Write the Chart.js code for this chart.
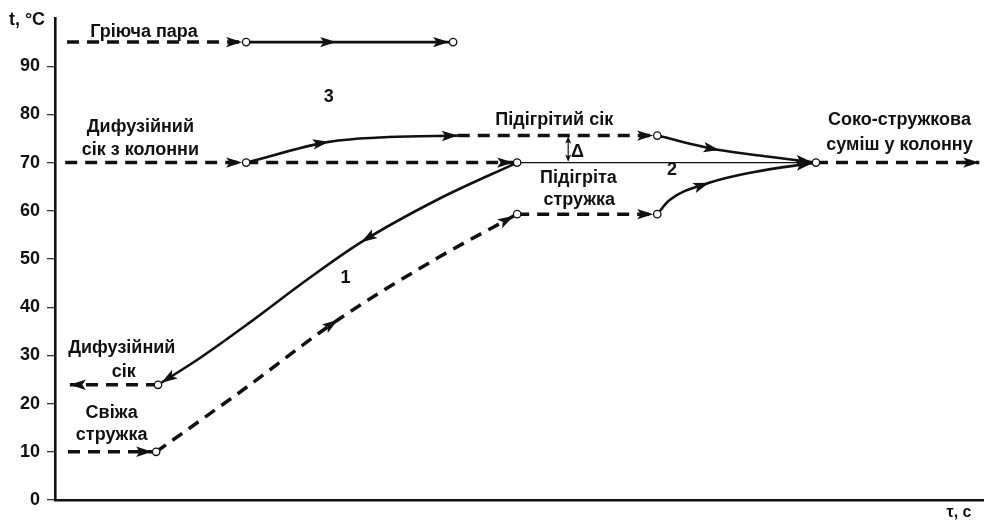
<!doctype html>
<html>
<head>
<meta charset="utf-8">
<title>Схема теплообміну</title>
<script src="https://cdn.jsdelivr.net/npm/chart.js@4.4.0/dist/chart.umd.min.js"></script>
<style>
  html, body { margin: 0; padding: 0; background: #fff; }
</style>
</head>
<body>
<canvas id="chart" width="988" height="521"></canvas>
<script>
// шляхи потоків: [час (умовно), t °C]
var steamIn     = [[1.3, 95], [20.6, 95]];
var steamHeat   = [[20.6, 95], [30.3, 95], [42.9, 95]];
var juiceIn     = [[1.1, 70], [20.6, 70]];
var juiceBypass = [[20.6, 70], [49.8, 70]];
var mixLine     = [[49.8, 70], [82, 70]];
var mixOut      = [[82, 70], [99.6, 70]];
var juiceHeated = [[20.6, 70], [29.5, 74.3], [35.9, 75.3], [43.4, 75.6]];
var juiceHot    = [[43.4, 75.6], [64.9, 75.6]];
var juiceMix    = [[64.9, 75.6], [71.6, 72.6], [77.0, 71.2], [82, 70]];
var chipsIn     = [[1.4, 10], [10.9, 10]];
var chipsHeat   = [[10.9, 10], [19.8, 22.2], [30.5, 37.4], [41.3, 50.3], [49.8, 59.3]];
var chipsHot    = [[49.8, 59.3], [64.9, 59.3]];
var chipsMix    = [[64.9, 59.3], [66.2, 62.2], [70.5, 65.8], [75.2, 68.0], [82, 70]];
var juiceCool   = [[49.8, 70], [41.3, 62.4], [33.0, 53.5], [27.3, 45.9], [20.9, 36.7], [15.5, 29.3], [11.1, 23.9]];
var juiceOut    = [[11.1, 23.9], [1.6, 23.9]];

var nodes = [[20.6, 95], [42.9, 95], [20.6, 70], [49.8, 70], [64.9, 75.6], [82, 70],
             [49.8, 59.3], [64.9, 59.3], [10.9, 10], [11.1, 23.9]];

var yTicks = [0, 10, 20, 30, 40, 50, 60, 70, 80, 90];

var notes = [
    ['Гріюча пара', 9.6, 97.1],
    ['3', 29.5, 83.6],
    ['Дифузійний', 9.2, 77.4],
    ['сік з колонни', 9.2, 72.6],
    ['Підігрітий сік', 53.8, 78.8],
    ['Δ', 56.3, 72.2],
    ['Підігріта', 56.4, 66.8],
    ['стружка', 56.5, 62.2],
    ['2', 66.5, 68.5],
    ['Соко-стружкова', 91.0, 78.8],
    ['суміш у колонну', 91.0, 73.7],
    ['1', 31.3, 46.1],
    ['Дифузійний', 7.2, 31.5],
    ['сік', 7.4, 26.6],
    ['Свіжа', 6.1, 18.0],
    ['стружка', 6.1, 13.5]
];
var delta = [55.3, 75.6, 70];

function pts(a) {
    return a.map(function (p) { return {x: p[0], y: p[1]}; });
}

var DASH = [12, 8];
var FONT = '"Liberation Sans", Arial, sans-serif';

function path(arr, dashed, extra) {
    var ds = {
        data: pts(arr),
        showLine: true,
        borderColor: '#111',
        borderWidth: dashed ? 3.5 : 2.6,
        borderDash: dashed ? DASH : [],
        pointRadius: 0,
        pointHoverRadius: 0,
        tension: 0,
        order: 2
    };
    for (var k in extra) ds[k] = extra[k];
    if (ds.curve) ds.cubicInterpolationMode = 'monotone';
    return ds;
}

function arrowHead(ctx, x, y, ang, len, half) {
    ctx.save();
    ctx.translate(x, y);
    ctx.rotate(ang);
    ctx.beginPath();
    ctx.moveTo(0, 0);
    ctx.lineTo(-len, -half);
    ctx.lineTo(-len * 0.78, 0);
    ctx.lineTo(-len, half);
    ctx.closePath();
    ctx.fill();
    ctx.restore();
}

var arrowsPlugin = {
    id: 'arrows',
    afterDatasetsDraw: function (chart) {
        var ctx = chart.ctx;
        ctx.fillStyle = '#111';
        chart.data.datasets.forEach(function (ds, i) {
            if (!ds.arrows) return;
            var el = chart.getDatasetMeta(i).data;
            ds.arrows.forEach(function (k) {
                var p = el[k], q = el[k - 1];
                var dx = p.x - q.x, dy = p.y - q.y;
                if (ds.curve && p.cp1x !== undefined) {
                    var ex = p.x - p.cp1x, ey = p.y - p.cp1y;
                    if (Math.hypot(ex, ey) > 0.5) { dx = ex; dy = ey; }
                }
                var ang = Math.atan2(dy, dx);
                var gap = (k === el.length - 1) ? (ds.tipGap || 0) : 0;
                arrowHead(ctx, p.x - gap * Math.cos(ang), p.y - gap * Math.sin(ang), ang, 16, 5.2);
            });
        });
    }
};

var notesPlugin = {
    id: 'notes',
    afterDraw: function (chart) {
        var ctx = chart.ctx, xs = chart.scales.x, ys = chart.scales.y, a = chart.chartArea;
        ctx.save();
        ctx.fillStyle = '#111';
        ctx.textAlign = 'center';
        ctx.textBaseline = 'middle';
        ctx.font = 'bold 18px ' + FONT;
        notes.forEach(function (n) {
            ctx.fillText(n[0], xs.getPixelForValue(n[1]), ys.getPixelForValue(n[2]));
        });
        // Δ
        var dx = xs.getPixelForValue(delta[0]);
        var y1 = ys.getPixelForValue(delta[1]), y2 = ys.getPixelForValue(delta[2]);
        ctx.strokeStyle = '#111';
        ctx.lineWidth = 1.2;
        ctx.beginPath();
        ctx.moveTo(dx, y1 + 2);
        ctx.lineTo(dx, y2 - 2);
        ctx.stroke();
        arrowHead(ctx, dx, y1 + 1, -Math.PI / 2, 7, 3);
        arrowHead(ctx, dx, y2 - 1, Math.PI / 2, 7, 3);
        // назви осей
        ctx.font = 'bold 18px ' + FONT;
        ctx.fillText('t, °C', a.left - 28, a.top + 2);
        ctx.font = 'bold 16px ' + FONT;
        ctx.fillText('τ, с', a.right - 24, a.bottom + 13);
        ctx.restore();
    }
};

new Chart(document.getElementById('chart'), {
    type: 'scatter',
    data: {
        datasets: [
            path(steamIn, true, {arrows: [1], tipGap: 4}),
            path(steamHeat, false, {arrows: [1, 2], tipGap: 4}),
            path(juiceIn, true, {arrows: [1], tipGap: 4}),
            path(juiceBypass, true, {arrows: [1], tipGap: 4}),
            path(mixLine, false, {borderWidth: 1.2}),
            path(mixOut, true, {arrows: [1]}),
            path(juiceHeated, false, {curve: true, arrows: [1, 3]}),
            path(juiceHot, true, {arrows: [1], tipGap: 4}),
            path(juiceMix, false, {curve: true, arrows: [1, 3], tipGap: 4}),
            path(chipsIn, true, {arrows: [1], tipGap: 4}),
            path(chipsHeat, true, {curve: true, arrows: [2, 4], tipGap: 4}),
            path(chipsHot, true, {arrows: [1], tipGap: 4}),
            path(chipsMix, false, {curve: true, arrows: [2, 4], tipGap: 4}),
            path(juiceCool, false, {curve: true, arrows: [2, 6], tipGap: 4}),
            path(juiceOut, true, {arrows: [1]}),
            {
                data: pts(nodes),
                pointStyle: 'circle',
                pointRadius: 3.7,
                pointHoverRadius: 3.7,
                pointBackgroundColor: '#fff',
                pointBorderColor: '#111',
                pointBorderWidth: 1.3,
                order: 1
            }
        ]
    },
    options: {
        responsive: false,
        animation: false,
        events: [],
        layout: {padding: {top: 18, left: 0, right: 0, bottom: 0}},
        plugins: {legend: {display: false}, tooltip: {enabled: false}},
        scales: {
            x: {
                type: 'linear', min: 0, max: 100,
                grid: {display: false},
                ticks: {display: false},
                border: {display: true, color: '#111', width: 2.6},
                afterFit: function (s) { s.height = 21; }
            },
            y: {
                type: 'linear', min: 0, max: 100,
                afterBuildTicks: function (s) {
                    s.ticks = yTicks.map(function (v) { return {value: v}; });
                },
                grid: {drawOnChartArea: false, drawTicks: true, tickLength: 8, color: '#333', lineWidth: 1.3},
                border: {display: true, color: '#111', width: 2.6},
                ticks: {
                    color: '#111', padding: 7,
                    font: {family: FONT, size: 18, weight: 'bold'}
                },
                afterFit: function (s) { s.width = 55; }
            }
        }
    },
    plugins: [arrowsPlugin, notesPlugin]
});
</script>
</body>
</html>
